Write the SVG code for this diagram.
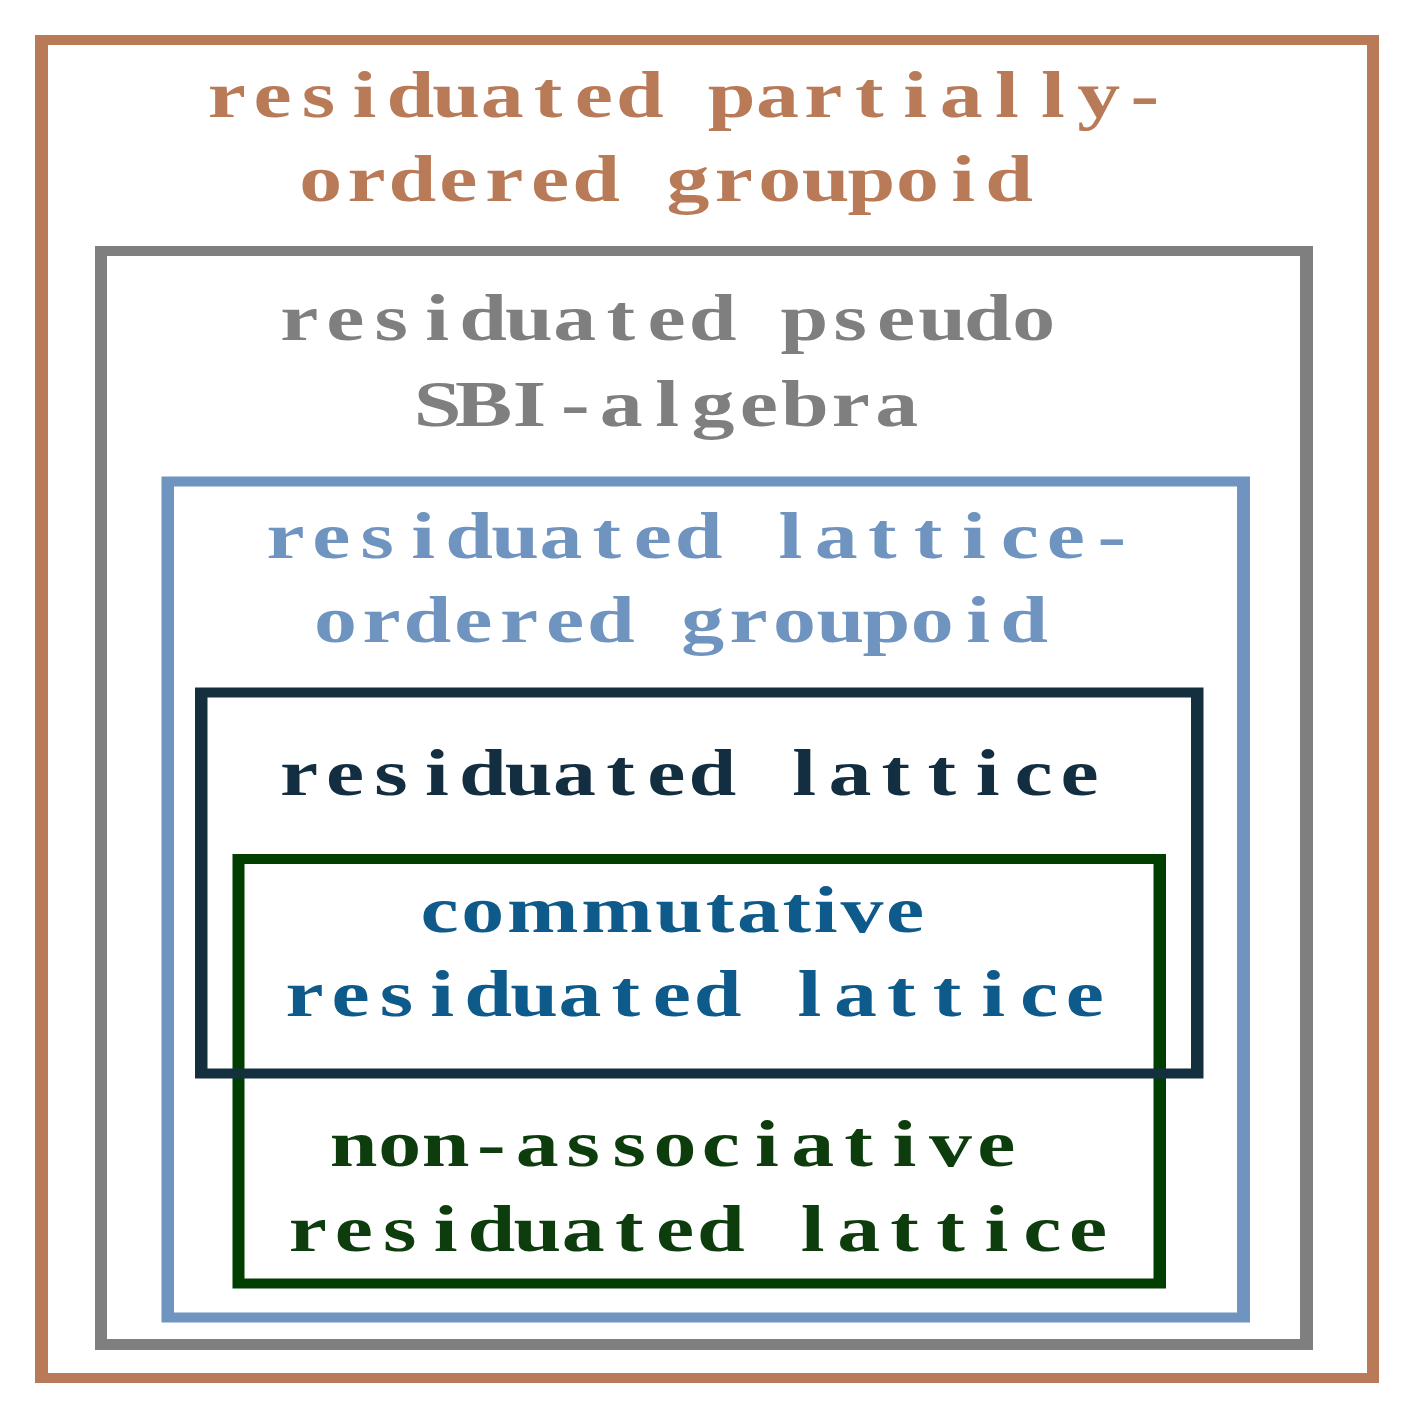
<svg xmlns="http://www.w3.org/2000/svg" width="1412" height="1423" viewBox="0 0 1412 1423">
<style>
.t{font-family:"Liberation Serif","Times New Roman",serif;font-weight:bold;font-size:66px;text-anchor:middle}
.f{fill-rule:evenodd}
</style>
<rect x="0" y="0" width="1412" height="1423" fill="#ffffff"/>
<g id="node-residuated-partially-ordered-groupoid">
<path class="f" fill="#B97A57" d="M35 35H1379V1383H35Z M48 45V1373H1367V45Z"/>
<text class="t" fill="#B97A57" transform="translate(685.7,117) scale(1.3,1)" x="-353.1 -317.79 -282.48 -247.17 -211.86 -176.55 -141.24 -105.93 -70.62 -35.31 0 35.31 70.62 105.93 141.24 176.55 211.86 247.17 282.48 317.79 353.1" y="0">residuated partially-</text>
<text class="t" fill="#B97A57" transform="translate(664.9,201) scale(1.3,1)" x="-264.82 -229.51 -194.2 -158.89 -123.58 -88.27 -52.96 -17.65 17.65 52.96 88.27 123.58 158.89 194.2 229.51 264.82" y="0">ordered groupoid</text>
</g>
<g id="node-residuated-pseudo-sbi-algebra">
<path class="f" fill="#7F7F7F" d="M95 246H1313V1350H95Z M107 256V1339H1300V256Z"/>
<text class="t" fill="#7F7F7F" transform="translate(666.6,340) scale(1.3,1)" x="-282.48 -247.17 -211.86 -176.55 -141.24 -105.93 -70.62 -35.31 0 35.31 70.62 105.93 141.24 176.55 211.86 247.17 282.48" y="0">residuated pseudo</text>
<text class="t" fill="#7F7F7F" transform="translate(667.1,425.7) scale(1.3,1)" x="-176.55 -141.24 -105.93 -70.62 -35.31 0 35.31 70.62 105.93 141.24 176.55" y="0">SBI-algebra</text>
</g>
<g id="node-residuated-lattice-ordered-groupoid">
<path class="f" fill="#7094C0" d="M161.5 476.5H1250V1322.5H161.5Z M174 486.5V1312.5H1237V486.5Z"/>
<text class="t" fill="#7094C0" transform="translate(698.6,558) scale(1.3,1)" x="-317.79 -282.48 -247.17 -211.86 -176.55 -141.24 -105.93 -70.62 -35.31 0 35.31 70.62 105.93 141.24 176.55 211.86 247.17 282.48 317.79" y="0">residuated lattice-</text>
<text class="t" fill="#7094C0" transform="translate(679.8,642) scale(1.3,1)" x="-264.82 -229.51 -194.2 -158.89 -123.58 -88.27 -52.96 -17.65 17.65 52.96 88.27 123.58 158.89 194.2 229.51 264.82" y="0">ordered groupoid</text>
</g>
<g id="node-non-associative-residuated-lattice">
<path class="f" fill="#003F00" d="M232.5 854H1166V1288.5H232.5Z M244.5 864V1278.5H1153.5V864Z"/>
<text class="t" fill="#0D3D0D" transform="translate(675,1166) scale(1.3,1)" x="-247.17 -211.86 -176.55 -141.24 -105.93 -70.62 -35.31 0 35.31 70.62 105.93 141.24 176.55 211.86 247.17" y="0">non-associative</text>
<text class="t" fill="#0D3D0D" transform="translate(698,1250.5) scale(1.3,1)" x="-300.13 -264.82 -229.51 -194.2 -158.89 -123.58 -88.27 -52.96 -17.65 17.65 52.96 88.27 123.58 158.89 194.2 229.51 264.82 300.13" y="0">residuated lattice</text>
</g>
<g id="node-residuated-lattice">
<path class="f" fill="#14303F" d="M195 687.5H1203.5V1078.5H195Z M207.5 697.5V1068.5H1191V697.5Z"/>
<text class="t" fill="#132E40" transform="translate(689.3,795) scale(1.3,1)" x="-300.13 -264.82 -229.51 -194.2 -158.89 -123.58 -88.27 -52.96 -17.65 17.65 52.96 88.27 123.58 158.89 194.2 229.51 264.82 300.13" y="0">residuated lattice</text>
</g>
<g id="node-commutative-residuated-lattice">
<text class="t" fill="#0E5A8A" transform="translate(672.5,931.7) scale(1.3,1)" x="-179.2 -146 -99.9 -42.8 5.1 36.5 66.1 95.7 117.9 145.7 178.9" y="0">commutative</text>
<text class="t" fill="#0E5A8A" transform="translate(694.7,1015.7) scale(1.3,1)" x="-300.13 -264.82 -229.51 -194.2 -158.89 -123.58 -88.27 -52.96 -17.65 17.65 52.96 88.27 123.58 158.89 194.2 229.51 264.82 300.13" y="0">residuated lattice</text>
</g>
<g id="connectors"></g>
</svg>
